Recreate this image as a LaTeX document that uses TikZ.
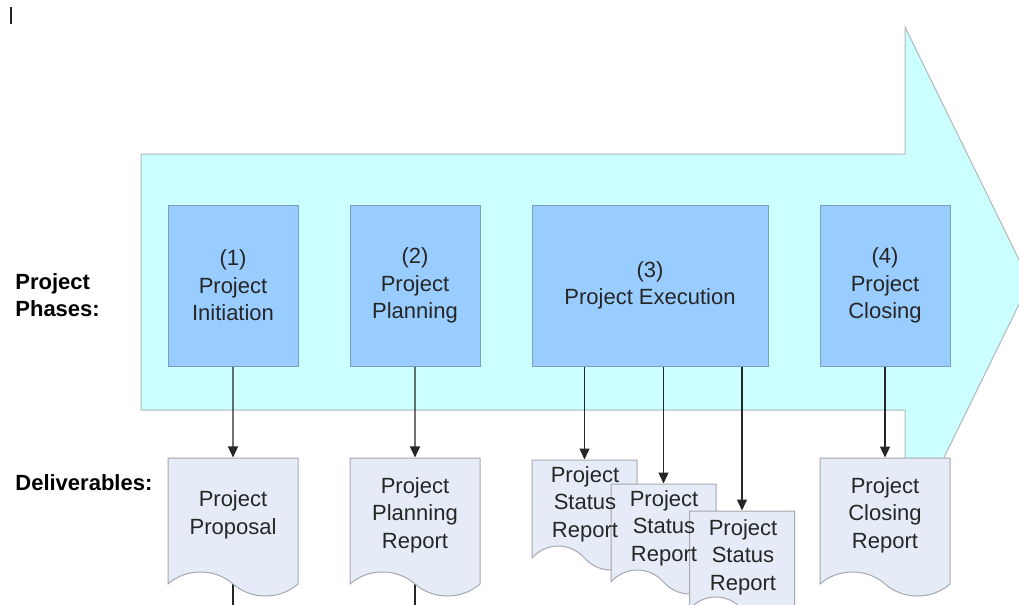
\documentclass[tikz,border=0pt]{standalone}
\usepackage{fontspec}
\setmainfont{Liberation Sans}
\usetikzlibrary{shapes.symbols,arrows.meta}
\definecolor{bandfill}{HTML}{CCFFFF}
\definecolor{bandline}{HTML}{AEB8B8}
\definecolor{phasefill}{HTML}{99CCFF}
\definecolor{phaseline}{HTML}{7A9EC2}
\definecolor{docfill}{HTML}{E5EBF7}
\definecolor{docline}{HTML}{A6A8B0}
\definecolor{ink}{HTML}{262626}

\begin{document}
\begin{tikzpicture}[x=0.5pt,y=-0.5pt,
  txt/.style={text=ink, font=\fontsize{11}{13.75}\selectfont, align=center},
  phase/.style={txt, draw=phaseline, fill=phasefill, line width=0.5pt, minimum width=65pt, minimum height=80.5pt, inner sep=0pt},
  deliv/.style={txt, tape, tape bend top=none, tape bend bottom=out and in, tape bend height=12pt, draw=docline, fill=docfill, line width=0.5pt, minimum width=65pt, minimum height=69pt, inner sep=0pt},
  small/.style={deliv, minimum width=52.5pt, minimum height=55pt},
  lbl/.style={text=black, font=\fontsize{11}{13.75}\selectfont\bfseries, align=left, inner sep=0pt},
  link/.style={-{Triangle[length=5.5pt,width=5pt]}, line width=0.6pt, ink}]
\useasboundingbox (0,0) rectangle (1019,605);
\clip (0,0) rectangle (1019,605);

% cursor mark
\draw[ink, line width=1pt] (11,7) -- (11,24);

% the big arrow
\draw[fill=bandfill, draw=bandline, line width=0.5pt] (141,154) -- (905,154) -- (905,27) -- (1030,282) -- (905,537) -- (905,410) -- (141,410) -- cycle;

\node[lbl, anchor=west] (phaselbl) at (15,295) {Project\\Phases:};
\node[lbl, anchor=base west] (delivlbl) at (15,490) {Deliverables:};

% phases
\node[phase] (p1) at (233,285.5) {(1)\\Project\\Initiation};
\node[phase] (p2) at (415,285.5) {(2)\\Project\\Planning};
\node[phase, minimum width=118pt] (p3) at (650,285.5) {(3)\\Project Execution};
\node[phase] (p4) at (885,285.5) {(4)\\Project\\Closing};

% deliverables
\coordinate (d1end) at (233,640);
\coordinate (d2end) at (415,640);
\draw[line width=0.6pt, ink] (233,560) -- (d1end);
\draw[line width=0.6pt, ink] (415,560) -- (d2end);
\node[deliv] (d1) at (233,515) {Project\\Proposal};
\node[deliv] (d2) at (415,515) {Project\\Planning\\Report};
\node[small] (s1) at (584.5,503) {};
\node[small] (s2) at (663.5,527) {};
\node[small] (s3) at (742,554) {};
\node[txt] (s1txt) at (585,504) {Project\\Status\\Report};
\node[txt] (s2txt) at (664,528) {Project\\Status\\Report};
\node[txt] (s3txt) at (743,557) {Project\\Status\\Report};
\node[deliv] (d4) at (885,515) {Project\\Closing\\Report};

% connectors
\draw[link] (p1) -- (d1);
\draw[link] (p2) -- (d2);
\draw[link] (p3.south -| s1.north) -- (s1.north);
\draw[link] (p3.south -| s2.north) -- (s2.north);
\draw[link] (p3.south -| s3.north) -- (s3.north);
\draw[link] (p4.south -| d4.north) -- (d4.north);
\end{tikzpicture}
\end{document}
